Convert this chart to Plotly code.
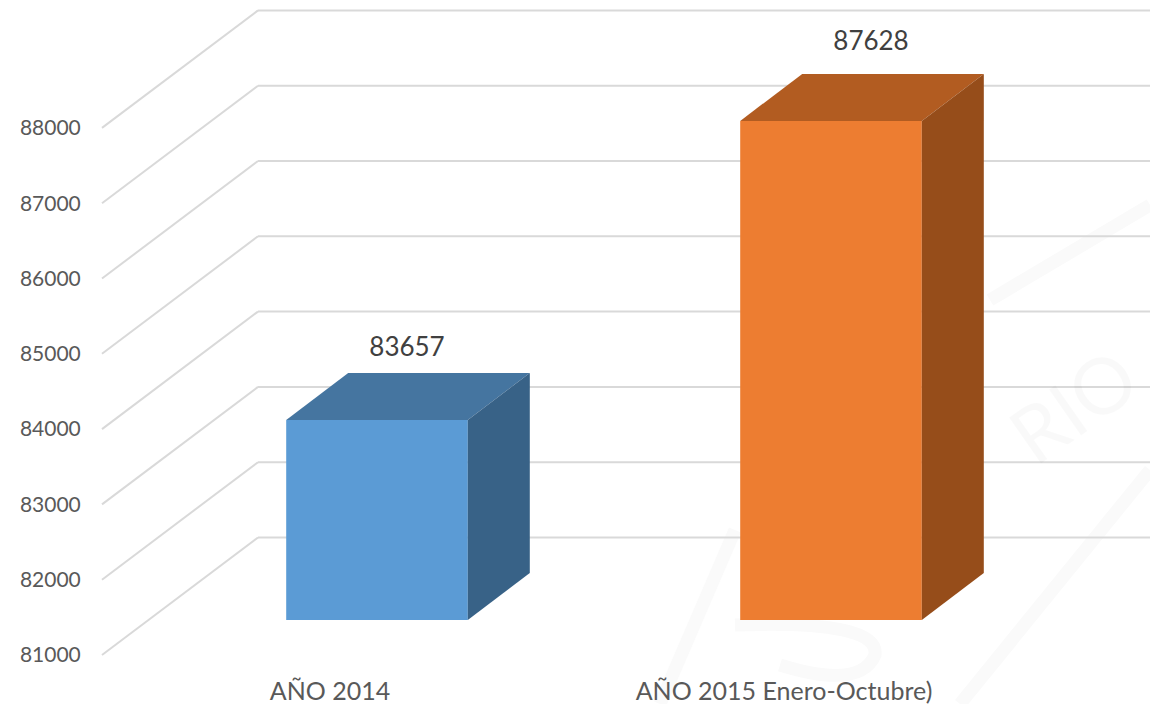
"""
3D-look column chart, drawn on ordinary cartesian axes
"""
import plotly.graph_objects as go

categories = ['AÑO 2014', 'AÑO 2015 Enero-Octubre)']
values = [83657, 87628]
y_ticks = [81000, 82000, 83000, 84000, 85000, 86000, 87000, 88000]

front_colors = ['#5B9BD5', '#ED7D31']
top_colors = ['#4575A0', '#B25C21']
side_colors = ['#386287', '#964D1A']

GRID = '#D9D9D9'
WIDTH, HEIGHT = 1150, 704
LEFT, BOTTOM = 88, 36

# scale of the axes: pixels per x unit / per y unit
PX_X = 454.0
PX_Y = 0.0753
X0_PX = 377.0   # pixel of x=0
Y0_PX = 655.0   # pixel of y=81000

x_range = [(LEFT - X0_PX) / PX_X, (WIDTH - X0_PX) / PX_X]
y_range = [81000 - (HEIGHT - BOTTOM - Y0_PX) / PX_Y, 81000 + Y0_PX / PX_Y]


def dx(px):
    return px / PX_X


def dy(px):
    return px / PX_Y


def to_paper(path):
    # watermark paths are written in pixels, the shapes need paper fractions
    out, is_x = [], True
    for part in path.split():
        if part.isalpha():
            out.append(part)
            is_x = True
        elif is_x:
            out.append(str((float(part) - LEFT) / (WIDTH - LEFT)))
            is_x = False
        else:
            out.append(str((HEIGHT - BOTTOM - float(part)) / (HEIGHT - BOTTOM)))
            is_x = True
    return ' '.join(out)


BAR_WIDTH = 0.4
BAR_BASE_SHIFT = dy(35)      # bars stand a little behind the front of the floor
DEPTH_X, DEPTH_Y = dx(62), dy(47)   # depth of a bar
WALL_X, WALL_Y = dx(156), dy(117.5)   # depth of the floor
GRID_START = dx(102 - X0_PX)

# Faint watermark behind the plot
watermark = [
    'M 990 300 L 1150 205',
    'M 660 704 L 735 530',
    'M 960 704 L 1150 470',
    'M 735 625 Q 880 620 875 655 Q 860 690 780 665',
]
shapes = []
for path in watermark:
    shapes.append(dict(
        type='path', path=to_paper(path), xref='paper', yref='paper',
        line=dict(color='#FAFAFA', width=13), layer='below'
    ))

# Gridlines as shapes so that they stay under the bars: side wall then back wall
for tick in y_ticks:
    shapes.append(dict(
        type='line', xref='x', yref='y', layer='below',
        x0=GRID_START, y0=tick, x1=GRID_START + WALL_X, y1=tick + WALL_Y,
        line=dict(color=GRID, width=2)
    ))
    shapes.append(dict(
        type='line', xref='x', yref='y', layer='below',
        x0=GRID_START + WALL_X, y0=tick + WALL_Y, x1=x_range[1], y1=tick + WALL_Y,
        line=dict(color=GRID, width=2)
    ))

fig = go.Figure()

# Front faces
fig.add_trace(go.Bar(
    x=list(range(len(values))),
    y=[v - 81000 for v in values],
    base=81000 + BAR_BASE_SHIFT,
    width=BAR_WIDTH,
    marker=dict(color=front_colors, line=dict(width=0)),
    hoverinfo='skip'
))

# Top and side faces
for i, v in enumerate(values):
    left = i - BAR_WIDTH / 2
    right = i + BAR_WIDTH / 2
    top = v + BAR_BASE_SHIFT
    floor = 81000 + BAR_BASE_SHIFT
    fig.add_trace(go.Scatter(
        x=[left, right, right + DEPTH_X, left + DEPTH_X, left],
        y=[top, top, top + DEPTH_Y, top + DEPTH_Y, top],
        mode='lines',
        fill='toself',
        fillcolor=top_colors[i],
        line=dict(width=0),
        hoverinfo='skip'
    ))
    fig.add_trace(go.Scatter(
        x=[right, right + DEPTH_X, right + DEPTH_X, right, right],
        y=[top, top + DEPTH_Y, floor + DEPTH_Y, floor, top],
        mode='lines',
        fill='toself',
        fillcolor=side_colors[i],
        line=dict(width=0),
        hoverinfo='skip'
    ))

# Value labels above the bars
label_shift_px = [30, 40]
label_rise_px = [23, 30]
fig.add_trace(go.Scatter(
    x=[i + dx(label_shift_px[i]) for i in range(len(values))],
    y=[v + BAR_BASE_SHIFT + DEPTH_Y + dy(label_rise_px[i]) for i, v in enumerate(values)],
    mode='text',
    text=[str(v) for v in values],
    textposition='middle center',
    textfont=dict(family='Lato', size=26, color='#404040'),
    hoverinfo='skip'
))

fig.update_layout(
    width=WIDTH,
    height=HEIGHT,
    margin=dict(l=LEFT, r=0, t=0, b=BOTTOM, autoexpand=False),
    paper_bgcolor='white',
    plot_bgcolor='rgba(0,0,0,0)',
    showlegend=False,
    shapes=shapes,
    font=dict(family='Lato', color='#595959'),
    xaxis=dict(
        range=x_range,
        tickmode='array',
        tickvals=[i - dx(47) for i in range(len(categories))],
        ticktext=categories,
        tickfont=dict(size=25, color='#595959'),
        ticks='outside',
        ticklen=1,
        tickcolor='rgba(0,0,0,0)',
        showgrid=False,
        zeroline=False,
        showline=False
    ),
    yaxis=dict(
        range=y_range,
        tickmode='array',
        tickvals=y_ticks,
        ticktext=[str(t) for t in y_ticks],
        tickfont=dict(size=21, color='#595959'),
        ticks='outside',
        ticklen=2,
        tickcolor='rgba(0,0,0,0)',
        showgrid=False,
        zeroline=False,
        showline=False
    ),
    annotations=[dict(
        text='RIO',
        x=(1072 - X0_PX) / PX_X,
        y=81000 + (Y0_PX - 405) / PX_Y,
        xref='x',
        yref='y',
        showarrow=False,
        textangle=-35,
        font=dict(family='Lato', size=78, color='rgba(0,0,0,0.025)')
    )]
)

# the page's default body margin would push the chart 8px down and right
fig.write_html(
    "out.html",
    config=dict(displayModeBar=False),
    post_script="document.body.style.margin='0';"
)
